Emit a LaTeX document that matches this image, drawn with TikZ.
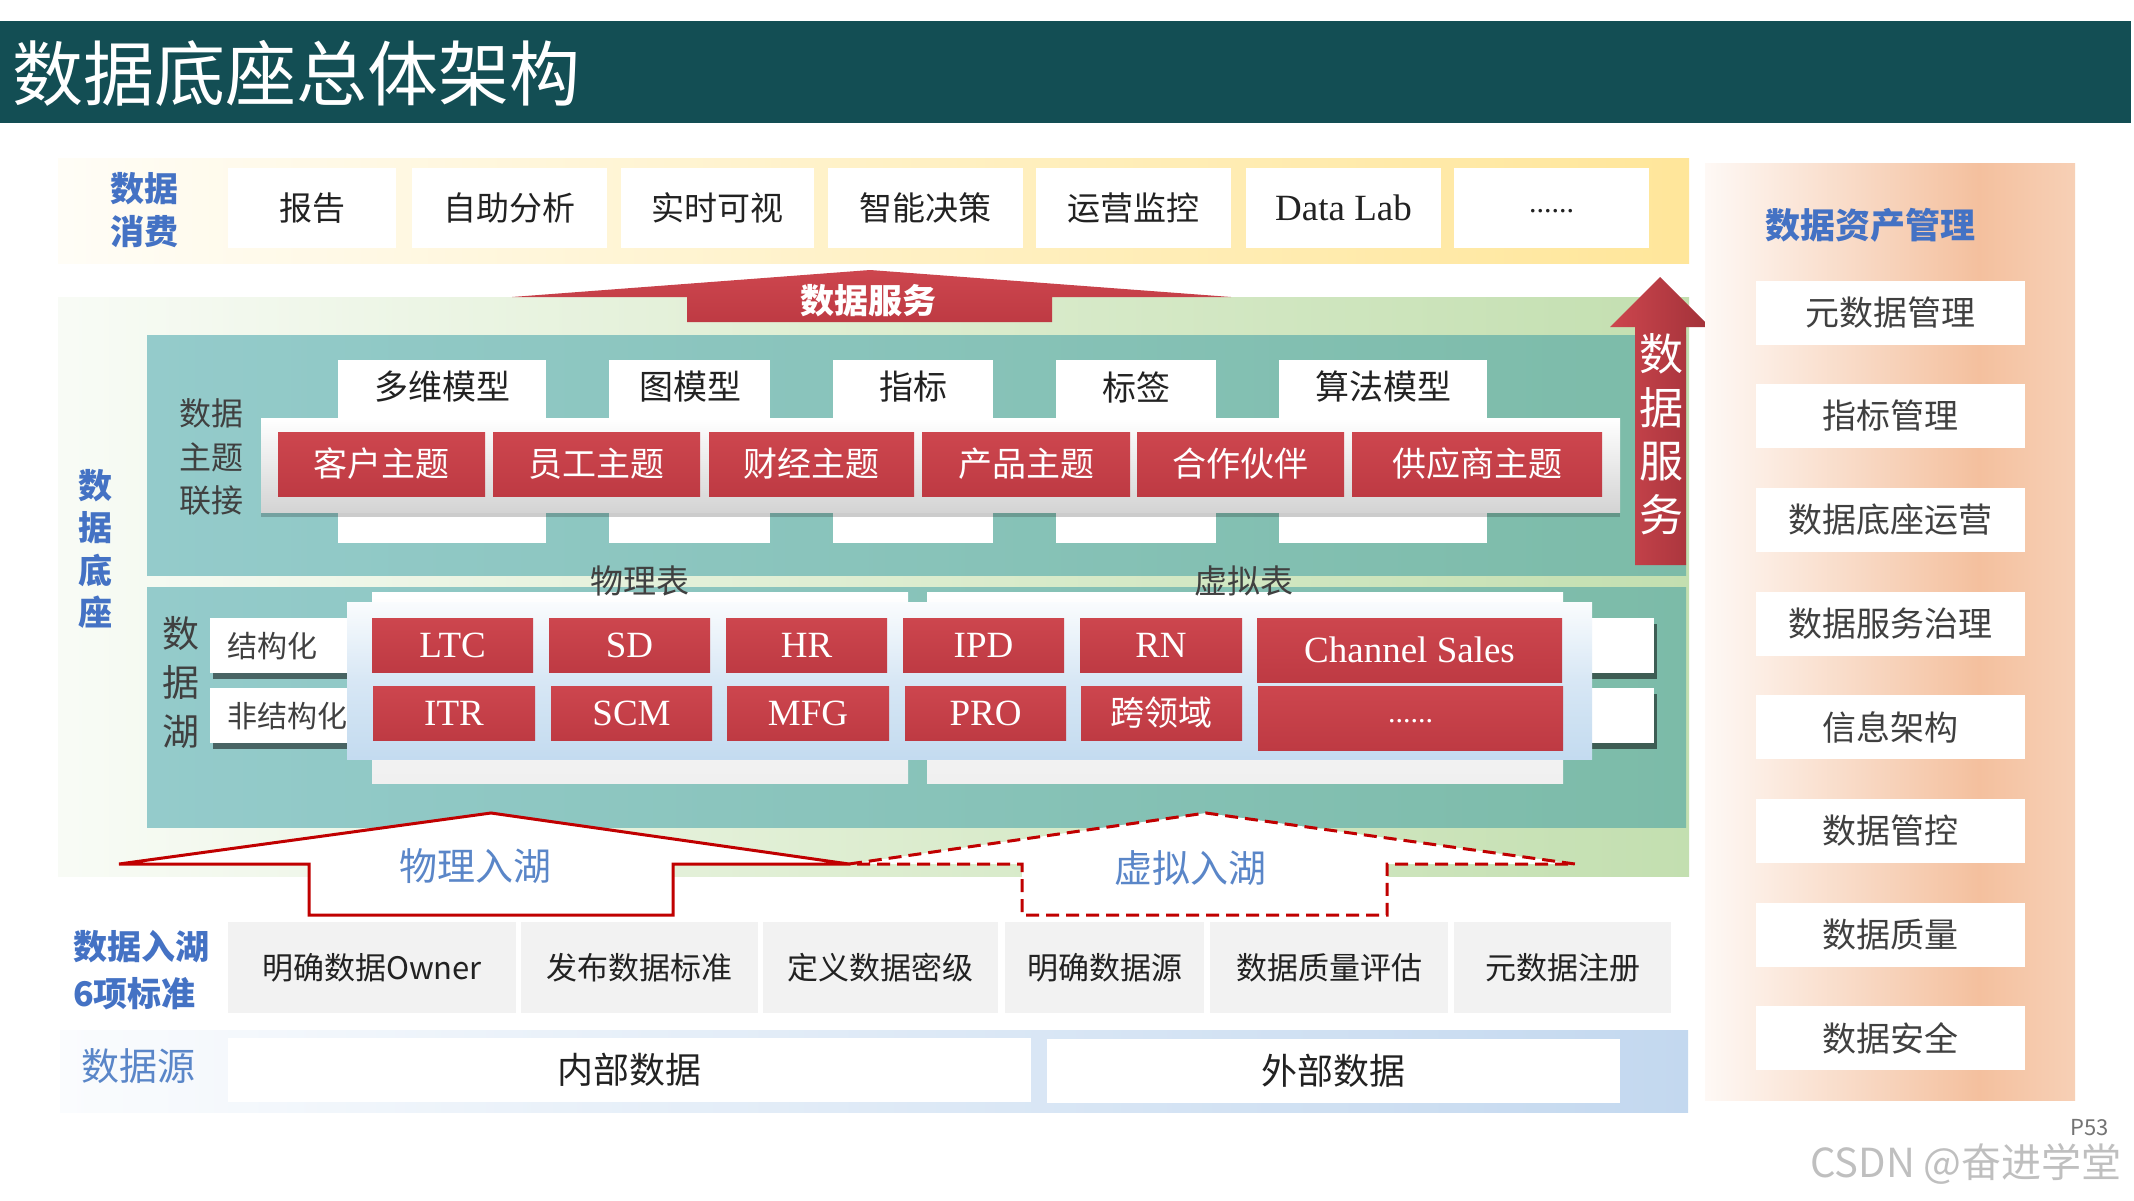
\documentclass[tikz,border=0pt]{standalone}
\usepackage{fontspec}
\setmainfont{Liberation Serif}
\newfontfamily\cjk{Noto Sans CJK SC}
\usetikzlibrary{shadows}
\definecolor{titlebg}{HTML}{134E54}
\definecolor{blu}{HTML}{4472C4}
\definecolor{blu2}{HTML}{5A86C8}
\definecolor{red1}{HTML}{CD464E}
\definecolor{red2}{HTML}{BE3A43}
\definecolor{dred}{HTML}{C00000}
\definecolor{tealL}{HTML}{94CBCB}
\definecolor{tealR}{HTML}{7CBBA8}
\definecolor{grnM}{HTML}{DDEDD0}
\definecolor{grnR}{HTML}{C3DFB0}
\definecolor{yelM}{HTML}{FFF1C6}
\definecolor{yelR}{HTML}{FFE69A}
\definecolor{gry}{HTML}{F2F2F2}
\definecolor{txt}{HTML}{222222}
\definecolor{txt2}{HTML}{404040}
\definecolor{lblue}{HTML}{BDD7EE}
\definecolor{srcR}{HTML}{C3D8EF}
\definecolor{peach}{HTML}{F4C09E}
\definecolor{peach2}{HTML}{F7D0B6}
\pgfdeclarehorizontalshading{peachsh}{100bp}{color(0bp)=(white); color(25bp)=(white!90!peach); color(62bp)=(peach); color(75bp)=(peach2); color(100bp)=(peach2)}
\newcommand\FS[1]{\fontsize{#1}{#1}\selectfont}
\newcommand\Bx[7]{%
 \pgfmathsetmacro\BXw{#5-#3}%
 \pgfmathsetmacro\BXh{#6-#4}%
 \pgfmathsetmacro\BXcx{(#3+#5)/2}%
 \pgfmathsetmacro\BXcy{(#4+#6)/2}%
 \node[#2,minimum width=\BXw pt,minimum height=\BXh pt,inner sep=0pt,outer sep=0pt] (#1) at (\BXcx,\BXcy) {#7};}
\tikzset{
 cbox/.style={fill=white, font=\cjk\FS{33}, text=txt},
 cser/.style={fill=white, font=\FS{37}, text=txt},
 redbox/.style={top color=red1, bottom color=red2, text=white, font=\cjk\FS{34}},
 redser/.style={top color=red1, bottom color=red2, text=white, font=\FS{37}},
 mbox/.style={fill=white},
 mtext/.style={font=\cjk\FS{34}, text=txt, inner sep=0pt},
 gbox/.style={fill=gry, font=\cjk\FS{31}, text=txt},
 sbox/.style={fill=white, font=\cjk\FS{36}, text=txt},
 abox/.style={fill=white, font=\cjk\FS{34}, text=txt2},
 sidebox/.style={fill=white, drop shadow={shadow xshift=3pt, shadow yshift=-6pt, fill=black, opacity=0.5}},
 lbl/.style={font=\cjk\FS{32}, text=txt2, inner sep=0pt, align=center},
 bluelbl/.style={font=\cjk\bfseries\FS{34}, text=blu, inner sep=0pt, align=center},
 inarrow/.style={fill=white, draw=dred, line width=3pt, line join=miter},
}
\begin{document}
\begin{tikzpicture}[x=1pt,y=-1pt]
\useasboundingbox (0,0) rectangle (2134,1200);
\fill[white] (0,0) rectangle (2134,1200);
% title bar
\fill[titlebg] (0,21) rectangle (2131,123);
\node[anchor=west, text=white, font=\cjk\FS{71}, inner sep=0pt] (title) at (12,73) {数据底座总体架构};

% data consumption band
\shade[left color=white!85!yelM, right color=yelR, middle color=yelM] (58,158) rectangle (1689,263);
\node[bluelbl, font=\cjk\bfseries\fontsize{34}{43}\selectfont] (consume) at (144,210) {数据\\消费};
\Bx{c1}{cbox}{228}{168}{396}{248}{报告}
\Bx{c2}{cbox}{412}{168}{607}{248}{自助分析}
\Bx{c3}{cbox}{621}{168}{814}{248}{实时可视}
\Bx{c4}{cbox}{828}{168}{1023}{248}{智能决策}
\Bx{c5}{cbox}{1036}{168}{1231}{248}{运营监控}
\Bx{c6}{cser}{1246}{168}{1441}{248}{Data Lab}
\Bx{c7}{cser}{1454}{168}{1649}{248}{\raisebox{-9pt}{\FS{30}......}}

% green base band
\shade[left color=white!80!grnM, right color=grnR, middle color=grnM] (58,297) rectangle (1689,876);
\node[bluelbl, font=\cjk\bfseries\fontsize{34}{42.5}\selectfont] (base) at (95,549) {数\\据\\底\\座};

% horizontal data service arrow
\shade[top color=red1, bottom color=red2] (512,297) -- (870,270) -- (1231,297) -- (1052,297) -- (1052,322) -- (687,322) -- (687,297) -- cycle;
\node[font=\cjk\bfseries\FS{34}, text=white, inner sep=0pt] (svc) at (868,301) {数据服务};

% teal panels
\shade[left color=tealL, right color=tealR] (147,335) rectangle (1686,575);
\shade[left color=tealL, right color=tealR] (147,587) rectangle (1686,827);

% vertical data service arrow
\shade[left color=red1, right color=red2!85!black] (1610,327) -- (1660,277) -- (1710,327) -- (1686,327) -- (1686,565) -- (1635,565) -- (1635,327) -- cycle;
\node[font=\cjk\fontsize{44}{53.5}\selectfont, text=white, inner sep=0pt, align=center] (svcv) at (1661,434) {数\\据\\服\\务};

% theme layer
\node[lbl, font=\cjk\fontsize{32}{43.5}\selectfont] (theme) at (211,457) {数据\\主题\\联接};
\Bx{m1}{mbox}{338}{360}{546}{543}{}
\Bx{m2}{mbox}{609}{360}{770}{543}{}
\Bx{m3}{mbox}{833}{360}{993}{543}{}
\Bx{m4}{mbox}{1056}{360}{1216}{543}{}
\Bx{m5}{mbox}{1279}{360}{1487}{543}{}
\node[mtext] (m1t) at (442,387) {多维模型};
\node[mtext] (m2t) at (690,387) {图模型};
\node[mtext] (m3t) at (913,387) {指标};
\node[mtext] (m4t) at (1136,387) {标签};
\node[mtext] (m5t) at (1383,387) {算法模型};
\shade[top color=white, bottom color=black!17, drop shadow={shadow xshift=0pt, shadow yshift=-5pt, fill=black, opacity=0.2}] (261,418) rectangle (1620,512);
\Bx{t1}{redbox}{278}{432}{485}{496}{客户主题}
\Bx{t2}{redbox}{493}{432}{700}{496}{员工主题}
\Bx{t3}{redbox}{709}{432}{914}{496}{财经主题}
\Bx{t4}{redbox}{922}{432}{1130}{496}{产品主题}
\Bx{t5}{redbox}{1137}{432}{1344}{496}{合作伙伴}
\Bx{t6}{redbox}{1352}{432}{1602}{496}{供应商主题}

% data lake layer
\node[lbl, font=\cjk\fontsize{37}{49}\selectfont] (lake) at (181,682) {数\\据\\湖};
\shade[top color=white, bottom color=black!6] (372,592) rectangle (908,783);
\shade[top color=white, bottom color=black!6] (927,592) rectangle (1563,783);
\Bx{s1}{sidebox}{210}{618}{360}{673}{}
\Bx{s2}{sidebox}{210}{688}{360}{743}{}
\Bx{r1}{sidebox}{1580}{618}{1654}{673}{}
\Bx{r2}{sidebox}{1580}{688}{1654}{743}{}
\node[anchor=west, font=\cjk\FS{30}, text=txt2, inner sep=0pt] (s1t) at (227,646) {结构化};
\node[anchor=west, font=\cjk\FS{30}, text=txt2, inner sep=0pt] (s2t) at (227,716) {非结构化};
\shade[top color=white!92!lblue, bottom color=lblue!90, middle color=lblue!60] (347,602) rectangle (1592,759);
\Bx{l1}{redser}{372}{618}{533}{672}{LTC}
\Bx{l2}{redser}{549}{618}{710}{672}{SD}
\Bx{l3}{redser}{726}{618}{887}{672}{HR}
\Bx{l4}{redser}{903}{618}{1064}{672}{IPD}
\Bx{l5}{redser}{1080}{618}{1242}{672}{RN}
\Bx{l6}{redser}{1257}{618}{1562}{682}{Channel Sales}
\Bx{k1}{redser}{373}{686}{535}{740}{ITR}
\Bx{k2}{redser}{551}{686}{712}{740}{SCM}
\Bx{k3}{redser}{727}{686}{889}{740}{MFG}
\Bx{k4}{redser}{905}{686}{1066}{740}{PRO}
\Bx{k5}{redbox}{1081}{686}{1242}{740}{跨领域}
\Bx{k6}{redser}{1258}{686}{1563}{750}{\raisebox{-9pt}{\FS{30}......}}
\node[font=\cjk\FS{33}, text=txt2, inner sep=0pt] (phys) at (640,581) {物理表};
\node[font=\cjk\FS{33}, text=txt2, inner sep=0pt] (virt) at (1244,581) {虚拟表};

% ingestion arrows
\path[fill=white] (849,864) -- (1206,813) -- (1575,864) -- (1387,864) -- (1387,915) -- (1022,915) -- (1022,864) -- cycle;
\draw[draw=dred, line width=3pt, dash pattern=on 13pt off 7pt] (849,864) -- (1206,813) -- (1575,864) -- (1387,864) -- (1387,915) -- (1022,915) -- (1022,864) -- cycle;
\draw[inarrow] (119,864) -- (491,813) -- (849,864) -- (673,864) -- (673,915) -- (309,915) -- (309,864) -- cycle;
\node[font=\cjk\FS{38}, text=blu2, inner sep=0pt] (physin) at (475,866) {物理入湖};
\node[font=\cjk\FS{38}, text=blu2, inner sep=0pt] (virtin) at (1190,868) {虚拟入湖};

% standards row
\node[bluelbl, anchor=west, align=left, font=\cjk\bfseries\fontsize{34}{47}\selectfont] (std) at (73,970) {数据入湖\\6项标准};
\Bx{g1}{gbox}{228}{922}{516}{1013}{明确数据Owner}
\Bx{g2}{gbox}{521}{922}{758}{1013}{发布数据标准}
\Bx{g3}{gbox}{763}{922}{998}{1013}{定义数据密级}
\Bx{g4}{gbox}{1005}{922}{1204}{1013}{明确数据源}
\Bx{g5}{gbox}{1210}{922}{1448}{1013}{数据质量评估}
\Bx{g6}{gbox}{1454}{922}{1671}{1013}{元数据注册}

% data source
\shade[left color=white!92!srcR, right color=srcR] (60,1030) rectangle (1688,1112);
\node[font=\cjk\FS{38}, text=blu2, inner sep=0pt] (src) at (138,1066) {数据源};
\Bx{d1}{sbox}{228}{1038}{1031}{1102}{内部数据}
\Bx{d2}{sbox}{1047}{1039}{1620}{1103}{外部数据}

% asset management column
\shade[shading=peachsh] (1705,163) rectangle (2075,1100);
\node[font=\cjk\bfseries\FS{35}, text=blu, inner sep=0pt] (asset) at (1870,225) {数据资产管理};
\Bx{a1}{abox}{1756}{281}{2025}{345}{元数据管理}
\Bx{a2}{abox}{1756}{384}{2025}{448}{指标管理}
\Bx{a3}{abox}{1756}{488}{2025}{552}{数据底座运营}
\Bx{a4}{abox}{1756}{592}{2025}{656}{数据服务治理}
\Bx{a5}{abox}{1756}{695}{2025}{759}{信息架构}
\Bx{a6}{abox}{1756}{799}{2025}{863}{数据管控}
\Bx{a7}{abox}{1756}{903}{2025}{967}{数据质量}
\Bx{a8}{abox}{1756}{1006}{2025}{1070}{数据安全}

% watermark and page number
\node[anchor=west, font=\cjk\FS{40}, text=black!25, inner sep=0pt] (wm) at (1810,1164) {CSDN @奋进学堂};
\node[font=\cjk\FS{22}, text=black!55, inner sep=0pt] (pg) at (2090,1128) {P53};
\end{tikzpicture}
\end{document}
